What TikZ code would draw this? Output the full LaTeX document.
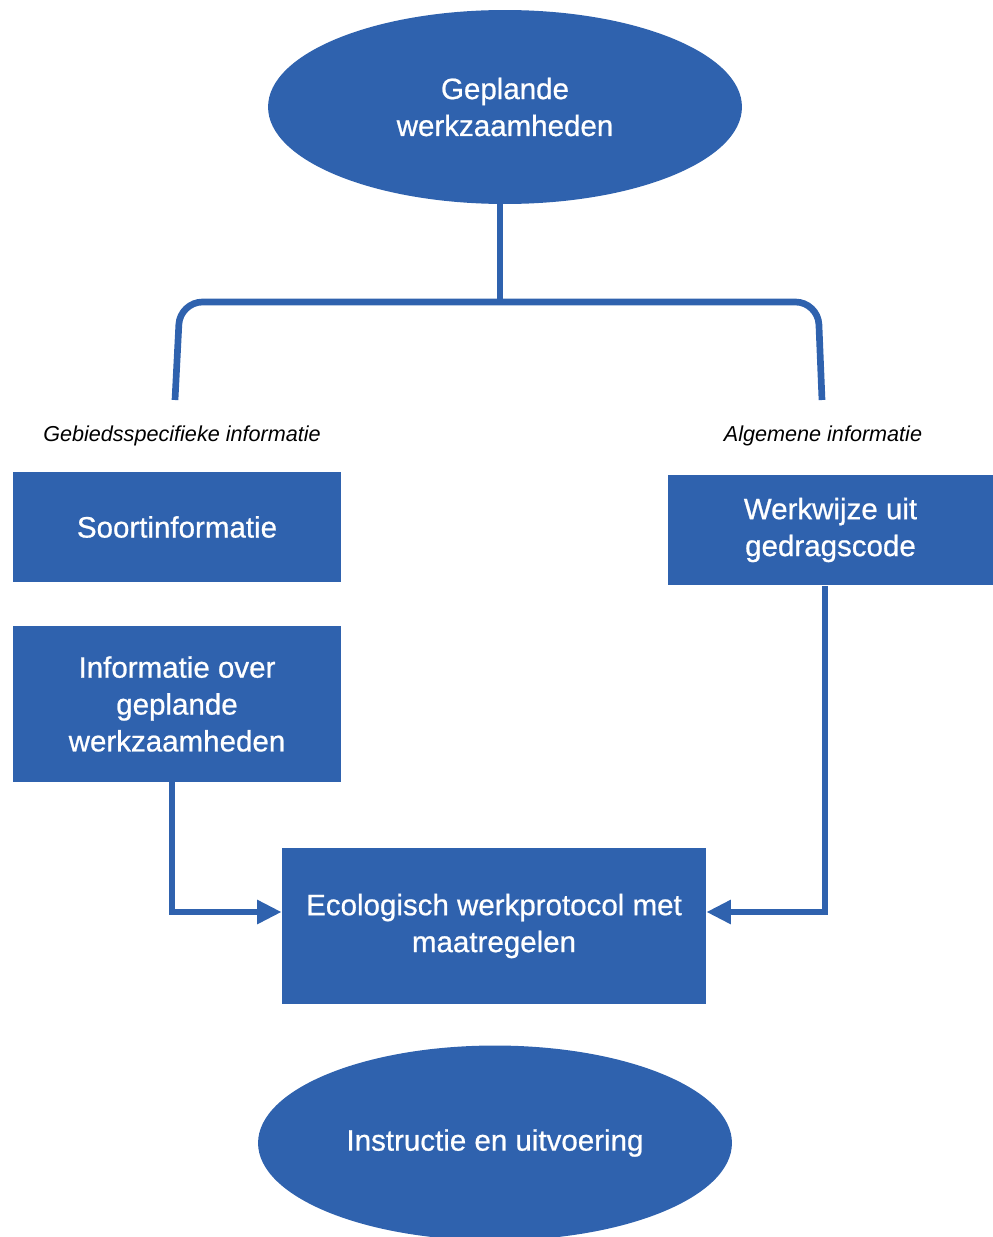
\documentclass[tikz,border=0pt]{standalone}
\usepackage{fontspec}
\setmainfont{Liberation Sans}
\newfontfamily\halfvet[FakeBold=0.7]{Liberation Sans}
\usetikzlibrary{shapes.geometric,arrows.meta}
\definecolor{protblue}{RGB}{47,98,174}

\begin{document}
\begin{tikzpicture}[x=0.02cm,y=-0.02cm,
	blok/.style={rectangle,fill=protblue,text=white,align=center,inner sep=0pt,font=\halfvet\fontsize{16.8}{21}\selectfont},
	ovaal/.style={ellipse,fill=protblue,text=white,align=center,inner sep=0pt,font=\halfvet\fontsize{16.8}{21}\selectfont},
	kop/.style={font=\fontsize{12.3}{14}\selectfont\itshape,inner sep=0pt},
	lijn/.style={protblue,line width=3.8pt},
	pijl/.style={lijn,-{Triangle[length=14pt,width=13pt]}}]
	\useasboundingbox (0,0) rectangle (993,1237);

	\node[ovaal,minimum width=9.48cm,minimum height=3.88cm] (gepland) at (505,107) {Geplande\\werkzaamheden};

	\coordinate (splits) at (500,302);
	\coordinate (linksonder) at (175,400);
	\coordinate (rechtsonder) at (822,400);
	\draw[lijn] (gepland.south -| splits) -- (splits);
	\draw[lijn,rounded corners=0.45cm] (linksonder) -- (180,302) -- (818,302) -- (rechtsonder);

	\node[kop] (gebied) at (182,436) {Gebiedsspecifieke informatie};
	\node[kop] (algemeen) at (823,436) {Algemene informatie};

	\node[blok,minimum width=6.56cm,minimum height=2.22cm] (soort) at (177,527) {Soortinformatie};
	\node[blok,minimum width=6.56cm,minimum height=3.12cm] (info) at (177,704) {Informatie over\\geplande\\werkzaamheden};
	\node[blok,minimum width=6.5cm,minimum height=2.22cm] (werkwijze) at (830.5,530) {Werkwijze uit\\gedragscode};
	\node[blok,minimum width=8.48cm,minimum height=3.12cm] (protocol) at (494,926) {Ecologisch werkprotocol met\\maatregelen};

	\node[ovaal,minimum width=9.48cm,minimum height=3.9cm] (instructie) at (495,1143) {Instructie en uitvoering};

	\draw[pijl] (info.south -| 172,0) |- ([yshift=0.28cm]protocol.west);
	\draw[pijl] (werkwijze.south -| 825,0) |- ([yshift=0.28cm]protocol.east);
\end{tikzpicture}
\end{document}
